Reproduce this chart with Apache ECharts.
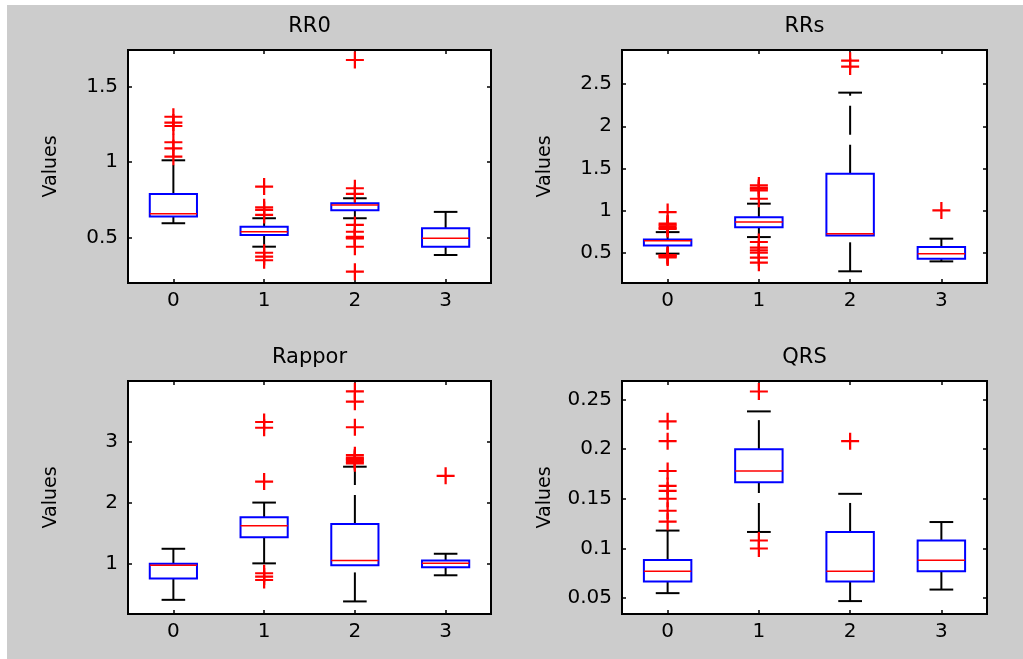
<!DOCTYPE html>
<html>
<head>
<meta charset="utf-8">
<script src="https://cdn.jsdelivr.net/npm/echarts@6/dist/echarts.min.js"></script>
<style>
html,body{margin:0;padding:0;background:#fff;}
#chart{width:1023px;height:659px;}
</style>
</head>
<body>
<div id="chart"></div>
<script>
// ---- data ----
const categories = ['0', '1', '2', '3'];
const panelTitles = ['RR0', 'RRs', 'Rappor', 'QRS'];

// box stats per category: [lowerWhisker, q1, median, q3, upperWhisker]
const rr0Stats = [
  [0.595, 0.639, 0.658, 0.789, 1.011],
  [0.440, 0.518, 0.539, 0.572, 0.628],
  [0.628, 0.681, 0.716, 0.727, 0.760],
  [0.385, 0.440, 0.496, 0.562, 0.670]
];
const rr0Outliers = [
  [1.299, 1.26, 1.238, 1.13, 1.09, 1.035],
  [0.837, 0.70, 0.683, 0.65, 0.40, 0.374, 0.35],
  [1.674, 0.826, 0.789, 0.584, 0.539, 0.505, 0.50, 0.495, 0.44, 0.275],
  []
];
const rrsStats = [
  [0.486, 0.584, 0.640, 0.655, 0.742],
  [0.683, 0.800, 0.861, 0.920, 1.080],
  [0.276, 0.703, 0.723, 1.435, 2.400],
  [0.394, 0.426, 0.486, 0.564, 0.664]
];
const rrsOutliers = [
  [0.98, 0.845, 0.83, 0.81, 0.79, 0.78, 0.47, 0.46, 0.45, 0.44],
  [1.297, 1.27, 1.258, 1.238, 1.139, 0.624, 0.557, 0.525, 0.497, 0.438, 0.379],
  [2.78, 2.71],
  [1.0]
];
const rapporStats = [
  [0.400, 0.750, 0.967, 0.995, 1.240],
  [1.000, 1.430, 1.620, 1.757, 2.000],
  [0.374, 0.967, 1.049, 1.648, 2.590],
  [0.804, 0.935, 1.000, 1.049, 1.158]
];
const rapporOutliers = [
  [],
  [3.325, 3.23, 2.345, 0.837, 0.782, 0.727],
  [3.83, 3.66, 3.24, 2.78, 2.74, 2.72, 2.70, 2.67, 2.645],
  [2.44]
];
const qrsStats = [
  [0.055, 0.0666, 0.077, 0.0883, 0.118],
  [0.1166, 0.1666, 0.178, 0.200, 0.238],
  [0.047, 0.0666, 0.077, 0.1166, 0.155],
  [0.0586, 0.077, 0.088, 0.108, 0.1266]
];
const qrsOutliers = [
  [0.228, 0.208, 0.178, 0.163, 0.158, 0.15, 0.138, 0.127],
  [0.258, 0.108, 0.10],
  [0.208],
  []
];

// axis ranges and tick labels
const rr0Range = [0.2, 1.74];
const rrsRange = [0.137, 2.907];
const rapporRange = [0.167, 4.0];
const qrsRange = [0.034, 0.2686];
const rr0Ticks = [0.5, 1, 1.5];
const rrsTicks = [0.5, 1, 1.5, 2, 2.5];
const rapporTicks = [1, 2, 3];
const qrsTicks = [0.05, 0.1, 0.15, 0.2, 0.25];
const yName = 'Values';

// ---- layout ----
const FONT = 'DejaVu Sans';
const grids = [
  {left: 128, top: 50, width: 363, height: 233},
  {left: 622, top: 50, width: 365, height: 233},
  {left: 128, top: 381, width: 363, height: 233},
  {left: 622, top: 381, width: 365, height: 233}
];
const panels = [
  {stats: rr0Stats, out: rr0Outliers, range: rr0Range, ticks: rr0Ticks},
  {stats: rrsStats, out: rrsOutliers, range: rrsRange, ticks: rrsTicks},
  {stats: rapporStats, out: rapporOutliers, range: rapporRange, ticks: rapporTicks},
  {stats: qrsStats, out: qrsOutliers, range: qrsRange, ticks: qrsTicks}
];

const plusPath = 'path://M7,0H9V7H16V9H9V16H7V9H0V7H7Z';

function renderBox(params, api) {
  const x = api.value(0);
  const lo = api.coord([x, api.value(1)]);
  const q1 = api.coord([x, api.value(2)]);
  const md = api.coord([x, api.value(3)]);
  const q3 = api.coord([x, api.value(4)]);
  const hi = api.coord([x, api.value(5)]);
  const band = api.size([1, 0])[0];
  const hw = band * 0.26, cw = band * 0.13;
  const cx = lo[0];
  const wStyle = {stroke: '#000', lineWidth: 2, lineDash: [29, 10], fill: null};
  const cStyle = {stroke: '#000', lineWidth: 2, fill: null};
  return {
    type: 'group',
    children: [
      {type: 'line', shape: {x1: cx, y1: q3[1], x2: cx, y2: hi[1]}, style: wStyle},
      {type: 'line', shape: {x1: cx, y1: lo[1], x2: cx, y2: q1[1]}, style: wStyle},
      {type: 'line', shape: {x1: cx - cw, y1: hi[1], x2: cx + cw, y2: hi[1]}, style: cStyle},
      {type: 'line', shape: {x1: cx - cw, y1: lo[1], x2: cx + cw, y2: lo[1]}, style: cStyle},
      {type: 'rect', shape: {x: cx - hw, y: q3[1], width: 2 * hw, height: q1[1] - q3[1]},
        style: {fill: '#fff', stroke: '#0000ff', lineWidth: 2}},
      {type: 'line', shape: {x1: cx - hw, y1: md[1], x2: cx + hw, y2: md[1]},
        style: {stroke: '#ff0000', lineWidth: 1.5, fill: null}}
    ]
  };
}

const option = {
  animation: false,
  backgroundColor: '#fff',
  graphic: [{
    type: 'rect', left: 7, top: 5, z: -10, silent: true,
    shape: {width: 1016, height: 654},
    style: {fill: '#cccccc'}
  }],
  title: [], grid: [], xAxis: [], yAxis: [], series: []
};

panels.forEach((p, i) => {
  const g = grids[i];
  option.grid.push(Object.assign({
    show: true, backgroundColor: '#fff', borderColor: '#000', borderWidth: 2,
    containLabel: false, outerBoundsMode: 'none'
  }, g));
  option.title.push({
    text: panelTitles[i], left: g.left + g.width / 2, top: g.top - 34,
    textAlign: 'center', padding: 0,
    textStyle: {fontFamily: FONT, fontSize: 21, fontWeight: 'normal', color: '#000'}
  });
  const xi = option.xAxis.length;
  option.xAxis.push({
    type: 'category', data: categories, gridIndex: i, position: 'bottom',
    axisLine: {show: false},
    axisTick: {show: true, inside: true, length: 4, alignWithLabel: true, lineStyle: {color: '#000', width: 1.5}},
    axisLabel: {fontFamily: FONT, fontSize: 20, color: '#000', margin: 8},
    splitLine: {show: false}
  });
  option.xAxis.push({
    type: 'category', data: categories, gridIndex: i, position: 'top',
    axisLine: {show: false},
    axisTick: {show: true, inside: true, length: 4, alignWithLabel: true, lineStyle: {color: '#000', width: 1.5}},
    axisLabel: {show: false}, splitLine: {show: false}
  });
  const yi = option.yAxis.length;
  option.yAxis.push({
    type: 'value', gridIndex: i, position: 'left', min: p.range[0], max: p.range[1],
    name: yName, nameLocation: 'middle', nameGap: 67, nameRotate: 90,
    nameTextStyle: {fontFamily: FONT, fontSize: 19, color: '#000'},
    axisLine: {show: false},
    axisTick: {show: true, inside: true, length: 4, customValues: p.ticks, lineStyle: {color: '#000', width: 1.5}},
    axisLabel: {fontFamily: FONT, fontSize: 20, color: '#000', margin: 10, customValues: p.ticks},
    splitLine: {show: false}
  });
  option.yAxis.push({
    type: 'value', gridIndex: i, position: 'right', min: p.range[0], max: p.range[1],
    axisLine: {show: false},
    axisTick: {show: true, inside: true, length: 4, customValues: p.ticks, lineStyle: {color: '#000', width: 1.5}},
    axisLabel: {show: false}, splitLine: {show: false}
  });
  option.series.push({
    type: 'custom', xAxisIndex: xi, yAxisIndex: yi,
    renderItem: renderBox, clip: true,
    encode: {x: 0, y: [1, 2, 3, 4, 5]},
    data: p.stats.map((s, c) => [c].concat(s)), z: 2
  });
  const pts = [];
  p.out.forEach((vals, c) => vals.forEach(v => pts.push([c, v])));
  option.series.push({
    type: 'scatter', xAxisIndex: xi, yAxisIndex: yi,
    symbol: plusPath, symbolSize: [18, 17],
    itemStyle: {color: '#ff0000', opacity: 1}, z: 3,
    data: pts
  });
});

const chart = echarts.init(document.getElementById('chart'), null, {renderer: 'canvas'});
chart.setOption(option);
</script>
</body>
</html>
